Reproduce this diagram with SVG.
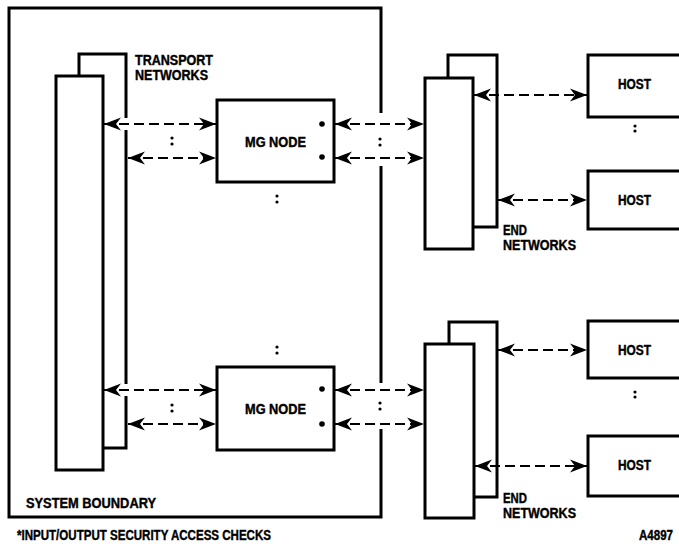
<svg xmlns="http://www.w3.org/2000/svg" width="679" height="544" viewBox="0 0 679 544">
<defs>
<marker id="ah" markerUnits="userSpaceOnUse" markerWidth="20" markerHeight="16" refX="17" refY="8" orient="auto-start-reverse">
<path d="M0,1.5 L17,8 L0,14.5 L5,8 z" fill="#000"/>
</marker>
</defs>
<style>
.box{fill:#fff;stroke:#000;stroke-width:3}
.ln{fill:none;stroke:#000;stroke-width:3}
.lbl{font-family:"Liberation Sans",Arial,sans-serif;font-weight:bold;font-size:14px;fill:#000;stroke:#000;stroke-width:0.4}
.dash{fill:none;stroke:#000;stroke-width:2;stroke-dasharray:10,5;marker-start:url(#ah);marker-end:url(#ah)}
.dot{fill:#000}
</style>
<rect width="679" height="544" fill="#fff"/>

<g id="system-boundary">
<path class="ln" d="M381,113 V8 H9 V517 H381 V429 M381,383 V166"/>
<text class="lbl" x="26" y="508" textLength="130" lengthAdjust="spacingAndGlyphs">SYSTEM BOUNDARY</text>
</g>

<g id="transport-networks">
<path class="box" d="M79,76 V54 H126 V448 H103"/>
<rect x="56" y="76" width="47" height="394" class="box"/>
<path d="M126,118 V130 M126,384 V396" stroke="#fff" stroke-width="5"/>
<text class="lbl" x="135" y="65" textLength="78" lengthAdjust="spacingAndGlyphs">TRANSPORT</text>
<text class="lbl" x="135" y="80" textLength="73" lengthAdjust="spacingAndGlyphs">NETWORKS</text>
</g>

<g id="mg-node-1">
<rect x="217" y="100" width="117" height="82" class="box"/>
<text class="lbl" x="245" y="147" textLength="61" lengthAdjust="spacingAndGlyphs">MG NODE</text>
<circle class="dot" cx="322" cy="124" r="2.8"/>
<circle class="dot" cx="322" cy="157" r="2.8"/>
</g>

<g id="mg-node-2">
<rect x="217" y="367" width="117" height="83" class="box"/>
<text class="lbl" x="245" y="414" textLength="61" lengthAdjust="spacingAndGlyphs">MG NODE</text>
<circle class="dot" cx="322" cy="389" r="2.8"/>
<circle class="dot" cx="322" cy="424" r="2.8"/>
</g>

<g id="end-networks-1">
<rect x="448" y="55" width="49" height="172" class="box"/>
<rect x="425" y="78" width="48" height="171" class="box"/>
<text class="lbl" x="503" y="235" textLength="24" lengthAdjust="spacingAndGlyphs">END</text>
<text class="lbl" x="503" y="250" textLength="73" lengthAdjust="spacingAndGlyphs">NETWORKS</text>
</g>

<g id="end-networks-2">
<rect x="449" y="322" width="48" height="175" class="box"/>
<rect x="425" y="344" width="49" height="174" class="box"/>
<text class="lbl" x="503" y="503" textLength="24" lengthAdjust="spacingAndGlyphs">END</text>
<text class="lbl" x="503" y="518" textLength="73" lengthAdjust="spacingAndGlyphs">NETWORKS</text>
</g>

<g id="host-1">
<rect x="588" y="55" width="100" height="62" class="box"/>
<text class="lbl" x="618" y="89" textLength="33" lengthAdjust="spacingAndGlyphs">HOST</text>
</g>
<g id="host-2">
<rect x="588" y="171" width="100" height="58" class="box"/>
<text class="lbl" x="618" y="205" textLength="33" lengthAdjust="spacingAndGlyphs">HOST</text>
</g>
<g id="host-3">
<rect x="588" y="321" width="100" height="57" class="box"/>
<text class="lbl" x="618" y="355" textLength="33" lengthAdjust="spacingAndGlyphs">HOST</text>
</g>
<g id="host-4">
<rect x="588" y="436" width="100" height="60" class="box"/>
<text class="lbl" x="618" y="470" textLength="33" lengthAdjust="spacingAndGlyphs">HOST</text>
</g>

<g id="connectors">
<line class="dash" x1="104" y1="124" x2="216" y2="124"/>
<line class="dash" x1="128" y1="158" x2="216" y2="158"/>
<line class="dash" x1="335" y1="124" x2="424" y2="124"/>
<line class="dash" x1="335" y1="158" x2="424" y2="158"/>
<line class="dash" x1="474" y1="95" x2="587" y2="95"/>
<line class="dash" x1="498" y1="200" x2="587" y2="200"/>
<line class="dash" x1="104" y1="390" x2="216" y2="390"/>
<line class="dash" x1="128" y1="424" x2="216" y2="424"/>
<line class="dash" x1="335" y1="390" x2="424" y2="390"/>
<line class="dash" x1="335" y1="424" x2="424" y2="424"/>
<line class="dash" x1="498" y1="350" x2="587" y2="350"/>
<line class="dash" x1="475" y1="466" x2="587" y2="466"/>
</g>

<g id="ellipses" class="dot">
<circle cx="172" cy="138" r="1.6"/><circle cx="172" cy="144" r="1.6"/>
<circle cx="380" cy="139" r="1.6"/><circle cx="380" cy="145" r="1.6"/>
<circle cx="277" cy="196" r="1.6"/><circle cx="277" cy="202" r="1.6"/>
<circle cx="635" cy="126" r="1.6"/><circle cx="635" cy="131" r="1.6"/>
<circle cx="277" cy="347" r="1.6"/><circle cx="277" cy="353" r="1.6"/>
<circle cx="172" cy="405" r="1.6"/><circle cx="172" cy="411" r="1.6"/>
<circle cx="380" cy="403" r="1.6"/><circle cx="380" cy="409" r="1.6"/>
<circle cx="635" cy="392" r="1.6"/><circle cx="635" cy="397" r="1.6"/>
</g>

<text class="lbl" x="639" y="540" textLength="34" lengthAdjust="spacingAndGlyphs">A4897</text>
<text class="lbl" x="17" y="540" textLength="254" lengthAdjust="spacingAndGlyphs">*INPUT/OUTPUT SECURITY ACCESS CHECKS</text>
</svg>
